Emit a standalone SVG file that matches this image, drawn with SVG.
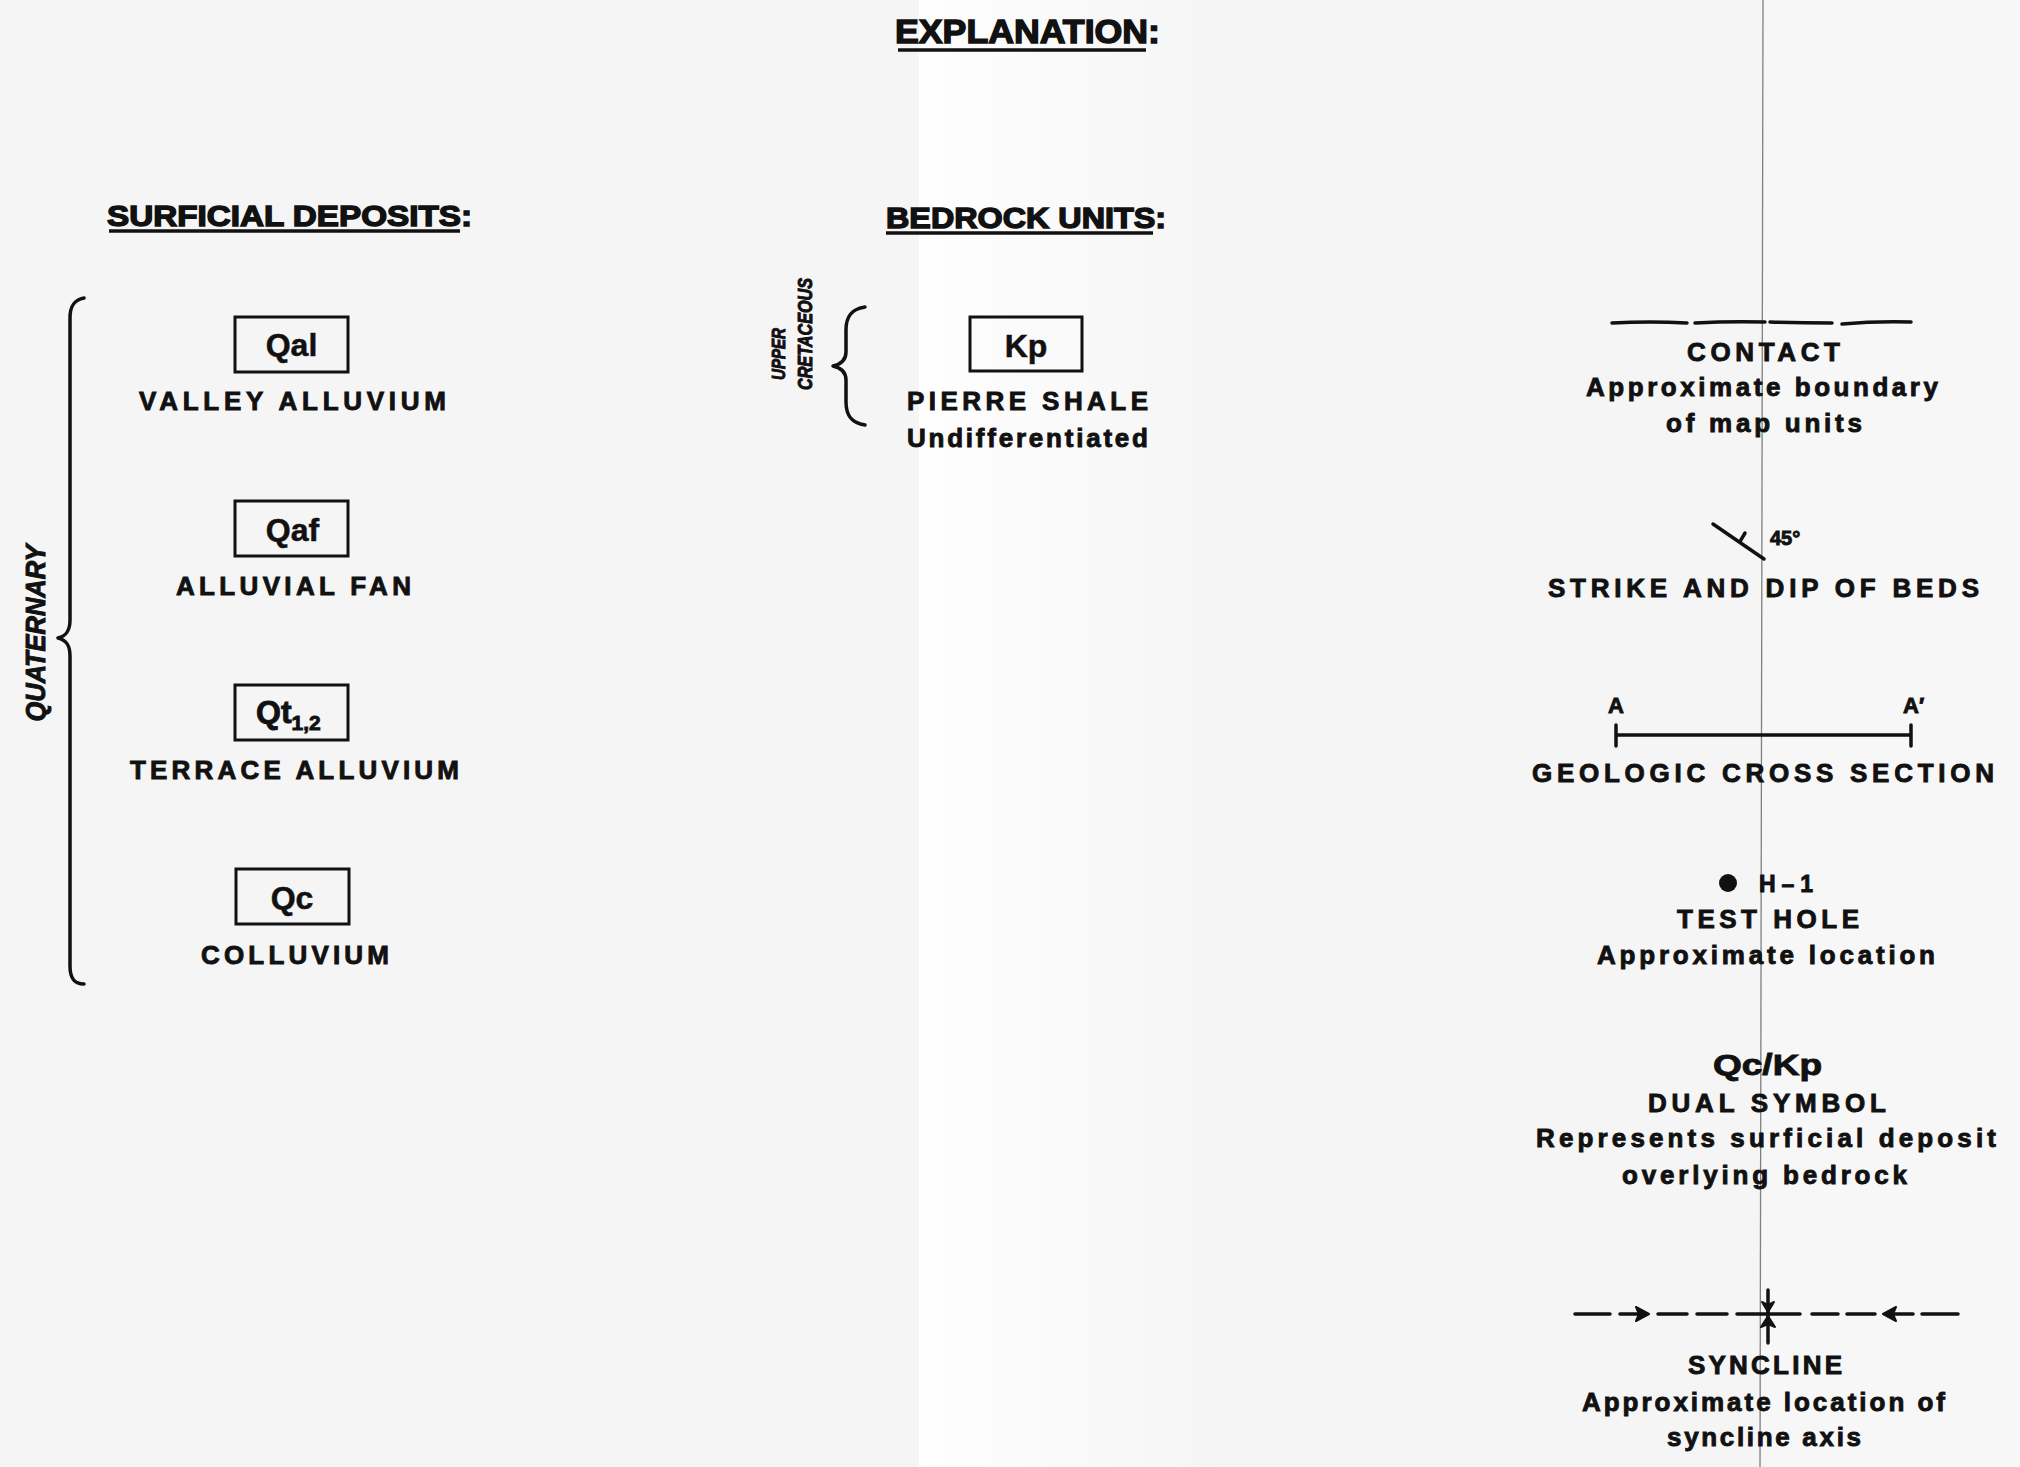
<svg xmlns="http://www.w3.org/2000/svg" width="2020" height="1467" viewBox="0 0 2020 1467">
<defs>
<linearGradient id="fold" x1="0" y1="0" x2="1" y2="0">
<stop offset="0" stop-color="#fefefe"/>
<stop offset="1" stop-color="#f5f5f5"/>
</linearGradient>
<style>
.t{font-family:"Liberation Sans",Arial,Helvetica,sans-serif;font-weight:bold;fill:#111;stroke:#111;stroke-width:0.9;}
.lbl{font-size:26px;text-anchor:middle;}
.hdr{stroke-width:1.4;}
.sym{font-size:32px;text-anchor:middle;stroke-width:0.5;}
.rot{font-style:italic;stroke-width:1;}
.box{fill:none;stroke:#111;stroke-width:3;}
.ln{fill:none;stroke:#111;stroke-width:3.5;stroke-linecap:round;stroke-linejoin:round;}
.ah{fill:#111;stroke:#111;stroke-width:2;stroke-linejoin:round;}
.ul{fill:none;stroke:#111;stroke-width:3.5;}
</style>
</defs>
<rect width="2020" height="1467" fill="#f5f5f5"/>
<rect x="919" y="0" width="300" height="1467" fill="url(#fold)"/>
<rect x="1762" y="0" width="258" height="1467" fill="#f7f7f7"/>
<line x1="1763" y1="0" x2="1760" y2="1467" stroke="#808080" stroke-width="1.3"/>

<g id="title">
<text class="t hdr" x="895" y="43" font-size="33" textLength="265" lengthAdjust="spacingAndGlyphs">EXPLANATION:</text>
<line class="ul" x1="898" y1="50" x2="1146" y2="50"/>
</g>
<g id="surficial-header">
<text class="t hdr" x="107" y="226" font-size="29" textLength="365" lengthAdjust="spacingAndGlyphs">SURFICIAL DEPOSITS:</text>
<line class="ul" x1="109" y1="231" x2="460" y2="231"/>
</g>
<g id="bedrock-header">
<text class="t hdr" x="886" y="228" font-size="29" textLength="280" lengthAdjust="spacingAndGlyphs">BEDROCK UNITS:</text>
<line class="ul" x1="886" y1="233" x2="1153" y2="233"/>
</g>

<g id="quaternary">
<path class="ln" stroke-width="2.5" d="M84,298 C74,300 70,306 70,318 L70,620 C70,631 66,636 58,638 C66,640 70,645 70,656 L70,966 C70,978 74,984 84,984"/>
<text class="t rot" transform="translate(45,633) rotate(-90)" text-anchor="middle" font-size="27" textLength="177" lengthAdjust="spacingAndGlyphs">QUATERNARY</text>
</g>

<g id="qal">
<rect class="box" x="235" y="317" width="113" height="55"/>
<text class="t sym" x="291.5" y="356">Qal</text>
<text class="t lbl" x="292.5" y="410" textLength="307">VALLEY ALLUVIUM</text>
</g>
<g id="qaf">
<rect class="box" x="235" y="501" width="113" height="55"/>
<text class="t sym" x="292.5" y="540.5">Qaf</text>
<text class="t lbl" x="293.5" y="595" textLength="235">ALLUVIAL FAN</text>
</g>
<g id="qt">
<rect class="box" x="235" y="685" width="113" height="55"/>
<text class="t" x="256" y="723" font-size="32" stroke-width="0.5">Qt<tspan font-size="21" dy="7">1,2</tspan></text>
<text class="t lbl" x="294.5" y="779" textLength="329">TERRACE ALLUVIUM</text>
</g>
<g id="qc">
<rect class="box" x="236" y="869" width="113" height="55"/>
<text class="t sym" x="292" y="908.5">Qc</text>
<text class="t lbl" x="295" y="964" textLength="188">COLLUVIUM</text>
</g>

<g id="upper-cretaceous">
<path class="ln" stroke-width="2.5" d="M865,307 C851,309 846,317 846,330 L846,352 Q846,363 833,366 Q846,369 846,380 L846,402 C846,415 851,423 865,425"/>
<text class="t rot" transform="translate(785,380) rotate(-90)" font-size="19" textLength="52" lengthAdjust="spacingAndGlyphs">UPPER</text>
<text class="t rot" transform="translate(812,390) rotate(-90)" font-size="20" textLength="112" lengthAdjust="spacingAndGlyphs">CRETACEOUS</text>
</g>
<g id="kp">
<rect class="box" x="970" y="317" width="112" height="54"/>
<text class="t sym" x="1026" y="357">Kp</text>
<text class="t lbl" x="1027.5" y="410" textLength="241">PIERRE SHALE</text>
<text class="t lbl" x="1027.5" y="447" textLength="241">Undifferentiated</text>
</g>

<g id="contact">
<path class="ln" stroke-width="4" d="M1612,323 Q1650,321 1687,323 M1695,323 Q1730,321 1765,322 M1770,322 Q1800,323 1832,323 M1842,324 Q1876,321 1911,322"/>
<text class="t lbl" x="1763.5" y="361" textLength="153">CONTACT</text>
<text class="t lbl" x="1762" y="396" textLength="352">Approximate boundary</text>
<text class="t lbl" x="1764" y="432" textLength="196">of map units</text>
</g>

<g id="strike-dip">
<path class="ln" d="M1713,524 L1764,559 M1739.5,542.3 L1745,533"/>
<text class="t" x="1770" y="545" font-size="20" stroke-width="0.6">45°</text>
<text class="t lbl" x="1763.5" y="597" textLength="431">STRIKE AND DIP OF BEDS</text>
</g>

<g id="cross-section">
<text class="t" x="1608" y="713" font-size="22">A</text>
<text class="t" x="1903" y="713" font-size="22">A′</text>
<path class="ln" stroke-width="3" stroke-linecap="butt" d="M1616,735 L1911,735 M1616,725 L1616,746 M1911,725 L1911,746"/>
<text class="t lbl" x="1763" y="782" textLength="462">GEOLOGIC CROSS SECTION</text>
</g>

<g id="test-hole">
<circle cx="1728" cy="883" r="9" fill="#111"/>
<text class="t" x="1759" y="892" font-size="23" textLength="54">H–1</text>
<text class="t lbl" x="1768" y="928" textLength="182">TEST HOLE</text>
<text class="t lbl" x="1766" y="964" textLength="338">Approximate location</text>
</g>

<g id="dual-symbol">
<text class="t" x="1767.5" y="1075" font-size="29" font-weight="normal" text-anchor="middle" stroke-width="0.9" textLength="109" lengthAdjust="spacingAndGlyphs">Qc/Kp</text>
<text class="t lbl" x="1767" y="1112" textLength="238">DUAL SYMBOL</text>
<text class="t lbl" x="1766" y="1147" textLength="460">Represents surficial deposit</text>
<text class="t lbl" x="1764.5" y="1184" textLength="285">overlying bedrock</text>
</g>

<g id="syncline">
<path class="ln" stroke-width="4" d="M1575,1314 L1610,1314 M1620,1314 L1640,1314 M1658,1314 L1687,1314 M1697,1314 L1727,1314 M1737,1314 L1800,1314 M1812,1314 L1838,1314 M1847,1314 L1875,1314 M1892,1314 L1913,1314 M1922,1314 L1958,1314"/>
<polygon class="ah" points="1636,1307 1649,1314 1636,1321 1639,1314"/>
<polygon class="ah" points="1896,1307 1883,1314 1896,1321 1893,1314"/>
<path class="ln" stroke-width="4" d="M1768,1290 L1768,1343"/>
<polygon class="ah" points="1762,1302 1768,1312 1774,1302 1768,1305"/>
<polygon class="ah" points="1761,1327 1768,1316 1775,1327 1768,1324"/>
<text class="t lbl" x="1765" y="1374" textLength="154">SYNCLINE</text>
<text class="t lbl" x="1763.5" y="1411" textLength="363">Approximate location of</text>
<text class="t lbl" x="1764" y="1446" textLength="194">syncline axis</text>
</g>

<g id="connectors"></g>
</svg>
